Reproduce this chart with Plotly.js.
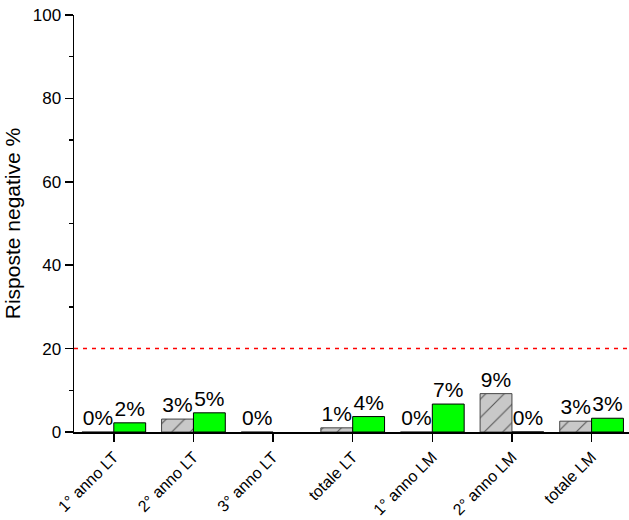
<!DOCTYPE html>
<html>
<head>
<meta charset="utf-8">
<script src="https://cdn.plot.ly/plotly-3.0.1.min.js"></script>
<style>html,body{margin:0;padding:0;background:#fff;}#chart{width:629px;height:520px;}</style>
</head>
<body>
<div id="chart"></div>
<script>
const categories = ["1° anno LT", "2° anno LT", "3° anno LT", "totale LT", "1° anno LM", "2° anno LM", "totale LM"];
const grayValues = [0, 3.1, 0, 1.0, 0, 9.2, 2.6];
const greenValues = [2.2, 4.6, null, 3.7, 6.7, 0, 3.3];
const threshold = 20;
const yTickVals = [0, 20, 40, 60, 80, 100];

function labels(arr) { return arr.map(v => v === null ? "" : Math.round(v) + "%"); }

const font = "'Liberation Sans', Arial, sans-serif";

const traces = [
  {
    type: "bar", x: categories, y: grayValues, name: "A",
    text: labels(grayValues), textposition: "outside", cliponaxis: false, constraintext: "none",
    textfont: {family: font, size: 21, color: "#000"},
    marker: {color: "#c8c8c8", line: {color: "#444", width: 1},
      pattern: {shape: "/", bgcolor: "#c8c8c8", fgcolor: "#555", size: 13, solidity: 0.08}}
  },
  {
    type: "bar", x: categories, y: greenValues, name: "B",
    text: labels(greenValues), textposition: "outside", cliponaxis: false, constraintext: "none",
    textfont: {family: font, size: 21, color: "#000"},
    marker: {color: "#00ff00", line: {color: "#000", width: 1}}
  }
];

const layout = {
  width: 629, height: 520,
  margin: {l: 74, r: 0, t: 15, b: 88},
  paper_bgcolor: "#fff", plot_bgcolor: "#fff",
  showlegend: false,
  barmode: "group", bargap: 0.2, bargroupgap: 0,
  font: {family: font, color: "#000"},
  xaxis: {
    type: "category", range: [-0.5, 6.47],
    showline: true, linecolor: "#000", linewidth: 1.5,
    ticks: "outside", ticklen: 8, tickwidth: 1.5, tickcolor: "#000",
    tickangle: -45, tickfont: {size: 16, family: font},
    showgrid: false, zeroline: false
  },
  yaxis: {
    range: [0, 100], tickvals: yTickVals,
    showline: true, linecolor: "#000", linewidth: 1.5,
    ticks: "outside", ticklen: 8, tickwidth: 1.5, tickcolor: "#000",
    minor: {ticks: "outside", ticklen: 4, dtick: 10, tickcolor: "#000", tickwidth: 1.5, showgrid: false},
    tickfont: {size: 17, family: font},
    showgrid: false, zeroline: false,
    title: {text: "Risposte negative %", font: {size: 21, family: font}, standoff: 6}
  },
  shapes: [{
    type: "line", xref: "paper", x0: 0, x1: 1, yref: "y", y0: threshold, y1: threshold,
    line: {color: "#ff0000", width: 1.5, dash: "4px,5px"}
  }]
};

Plotly.newPlot("chart", traces, layout, {displayModeBar: false, staticPlot: true});
</script>
</body>
</html>
